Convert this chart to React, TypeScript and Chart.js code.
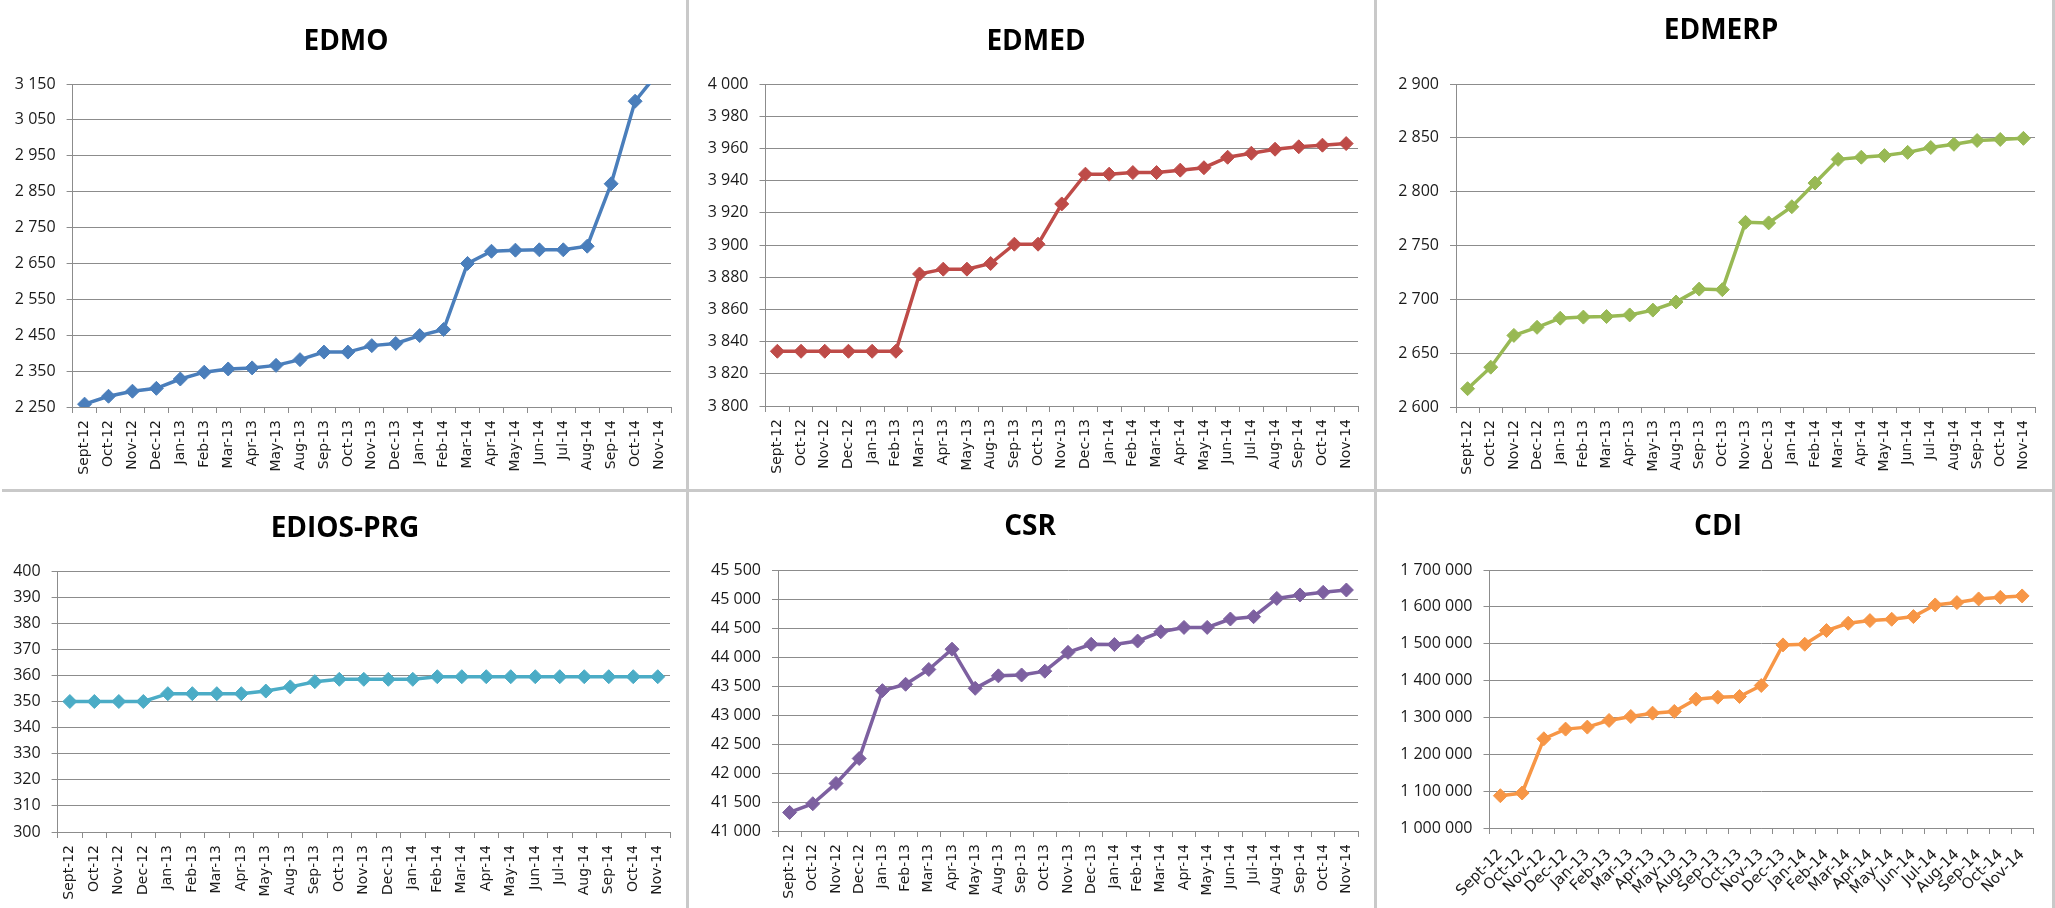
import React, { useEffect, useRef } from 'react';
import { Chart, registerables } from 'chart.js';

Chart.register(...registerables);

const months = [
  'Sept-12', 'Oct-12', 'Nov-12', 'Dec-12', 'Jan-13', 'Feb-13', 'Mar-13', 'Apr-13', 'May-13',
  'Aug-13', 'Sep-13', 'Oct-13', 'Nov-13', 'Dec-13', 'Jan-14', 'Feb-14', 'Mar-14', 'Apr-14',
  'May-14', 'Jun-14', 'Jul-14', 'Aug-14', 'Sep-14', 'Oct-14', 'Nov-14',
];

const edmoValues = [
  2258, 2280, 2294, 2302, 2328, 2347, 2356, 2359, 2366, 2382, 2403, 2403, 2421, 2427, 2449,
  2466, 2650, 2684, 2687, 2688, 2688, 2698, 2872, 3102, 3185,
];
const edmedValues = [
  3834, 3834, 3834, 3834, 3834, 3834, 3882, 3885, 3885, 3888.5, 3900.5, 3900.5, 3925.5, 3944,
  3944, 3945, 3945, 3946.5, 3948, 3954.5, 3957, 3959.5, 3961, 3962, 3963,
];
const edmerpValues = [
  2617, 2637, 2666.5, 2674, 2682.5, 2683.5, 2684, 2685.5, 2690, 2697.5, 2709.5, 2709, 2771.5,
  2771, 2786, 2808, 2830, 2832, 2833.5, 2836.5, 2841, 2844, 2847.5, 2848.5, 2849.5,
];
const ediosValues = [
  350, 350, 350, 350, 353, 353, 353, 353, 354, 355.6, 357.6, 358.5, 358.5, 358.5, 358.5,
  359.5, 359.5, 359.5, 359.5, 359.5, 359.5, 359.5, 359.5, 359.5, 359.5,
];
const csrValues = [
  41320, 41470, 41820, 42250, 43420, 43530, 43785, 44135, 43460, 43675, 43690, 43755, 44080,
  44220, 44215, 44275, 44435, 44510, 44510, 44655, 44695, 45010, 45070, 45115, 45155,
];
const cdiValues = [
  1087600, 1094900, 1242100, 1268300, 1273700, 1291800, 1302600, 1311600, 1316200, 1349600,
  1355000, 1356800, 1386600, 1496800, 1498600, 1535700, 1555600, 1562800, 1566400, 1573600,
  1605200, 1611600, 1621500, 1626000, 1629600,
];

const titles = ['EDMO', 'EDMED', 'EDMERP', 'EDIOS-PRG', 'CSR', 'CDI'];
const yMins = [2250, 3800, 2600, 300, 41000, 1000000];
const yMaxs = [3150, 4000, 2900, 400, 45500, 1700000];
const ySteps = [100, 20, 50, 10, 500, 100000];
const seriesColors = ['#4A7EBB', '#BE4B48', '#98B954', '#4BACC6', '#7D60A0', '#F79646'];
const seriesValues = [edmoValues, edmedValues, edmerpValues, ediosValues, csrValues, cdiValues];

// layout: panel box and target chart area (relative to the panel box)
const panels = [
  { left: 0, top: 0, w: 686, h: 489, aL: 72.6, aR: 671, aT: 84, aB: 407, tX: 346, tY: 42, rot: 90 },
  { left: 689, top: 0, w: 685, h: 489, aL: 76.5, aR: 669, aT: 84, aB: 406, tX: 347, tY: 42, rot: 90 },
  { left: 1377, top: 0, w: 675, h: 489, aL: 79, aR: 658, aT: 84, aB: 407, tX: 344, tY: 31, rot: 90 },
  { left: 0, top: 492, w: 686, h: 416, aL: 57.6, aR: 670, aT: 79, aB: 340, tX: 345, tY: 37, rot: 90 },
  { left: 689, top: 492, w: 685, h: 416, aL: 89, aR: 669, aT: 78, aB: 339, tX: 341, tY: 35, rot: 90 },
  { left: 1377, top: 492, w: 675, h: 416, aL: 112.5, aR: 656, aT: 78, aB: 336, tX: 341, tY: 35, rot: 45 },
];

const gridColor = '#8c8c8c';
const fmt = (v: number) => String(Math.round(v)).replace(/\B(?=(\d{3})+(?!\d))/g, ' ');

function Panel({ idx }: { idx: number }) {
  const ref = useRef<HTMLCanvasElement>(null);
  const p = panels[idx];
  useEffect(() => {
    if (!ref.current) return;
    const padR = p.w - p.aR;
    const xH = p.h - p.aB;
    const color = seriesColors[idx];
    const titlePlugin = {
      id: 'panelTitle' + idx,
      afterDraw(chart: any) {
        const ctx = chart.ctx;
        ctx.save();
        ctx.font = 'bold 28px "Open Sans", sans-serif';
        ctx.fillStyle = '#000';
        ctx.textAlign = 'center';
        ctx.textBaseline = 'middle';
        ctx.fillText(titles[idx], p.tX, p.tY);
        ctx.restore();
      },
    };
    const chart = new Chart(ref.current, {
      type: 'line',
      data: {
        labels: months,
        datasets: [
          {
            data: seriesValues[idx],
            borderColor: color,
            backgroundColor: color,
            borderWidth: 3.5,
            pointStyle: 'rectRot',
            pointRadius: 7,
            pointBorderWidth: 1,
            pointBackgroundColor: color,
            pointBorderColor: color,
            tension: 0,
            clip: 0,
          },
        ],
      },
      options: {
        responsive: false,
        animation: false,
        layout: { padding: { left: 0, right: padR, top: p.aT, bottom: 0 } },
        plugins: {
          legend: { display: false },
          tooltip: { enabled: false },
          title: { display: false },
        },
        scales: {
          x: {
            offset: true,
            grid: {
              display: true,
              drawOnChartArea: false,
              drawTicks: true,
              tickLength: 6,
              offset: true,
              color: gridColor,
            },
            border: { display: true, color: gridColor, width: 1 },
            ticks: {
              autoSkip: false,
              maxRotation: p.rot,
              minRotation: p.rot,
              padding: p.rot === 90 ? 7 : 12,
              color: '#1a1a1a',
              font: { family: '"DejaVu Sans", sans-serif', size: p.rot === 90 ? 14 : 15 },
            },
            afterFit: (s: any) => {
              s.height = xH;
            },
          },
          y: {
            min: yMins[idx],
            max: yMaxs[idx],
            ticks: {
              stepSize: ySteps[idx],
              padding: 11,
              color: '#1a1a1a',
              font: { family: '"Open Sans", sans-serif', size: 16 },
              callback: (v: any) => fmt(Number(v)),
            },
            grid: { color: gridColor, lineWidth: 1, drawTicks: true, tickLength: 6 },
            border: { display: true, color: gridColor, width: 1 },
            afterFit: (s: any) => {
              s.width = p.aL;
            },
          },
        },
      },
      plugins: [titlePlugin],
    } as any);
    return () => chart.destroy();
  }, [idx]);
  return (
    <canvas
      ref={ref}
      width={p.w}
      height={p.h}
      style={{ position: 'absolute', left: p.left, top: p.top, width: p.w, height: p.h }}
    />
  );
}

export default function App() {
  const sep = '#c9c9c9';
  return (
    <div style={{ position: 'absolute', left: 0, top: 0, width: 2055, height: 908, background: '#fff', overflow: 'hidden' }}>
      {panels.map((_, i) => (
        <Panel key={i} idx={i} />
      ))}
      <div style={{ position: 'absolute', left: 686, top: 0, width: 3, height: 908, background: sep }} />
      <div style={{ position: 'absolute', left: 1374, top: 0, width: 3, height: 908, background: sep }} />
      <div style={{ position: 'absolute', left: 2, top: 489, width: 2053, height: 3, background: sep }} />
      <div style={{ position: 'absolute', left: 2052, top: 0, width: 3, height: 908, background: sep }} />
    </div>
  );
}
